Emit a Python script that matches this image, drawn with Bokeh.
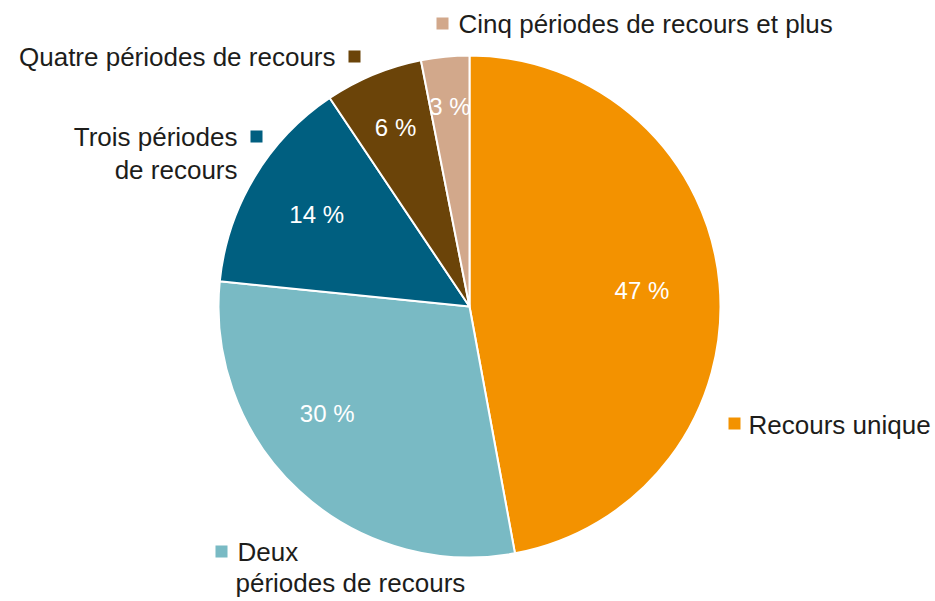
import math
from bokeh.plotting import figure
from bokeh.models import Range1d, ColumnDataSource
from bokeh.core.properties import value
from bokeh.embed import file_html
from bokeh.resources import INLINE

# ---- data ----
categories = ["Recours unique", "Deux périodes de recours", "Trois périodes de recours",
              "Quatre périodes de recours", "Cinq périodes de recours et plus"]
shares = [47.1, 29.5, 14.0, 6.3, 3.1]
pct_labels = ["47 %", "30 %", "14 %", "6 %", "3 %"]
colors = ["#f39200", "#79bac4", "#005f80", "#6b4409", "#d2a88b"]

# ---- layout (screen pixels of the 935x601 window) ----
W, H = 935, 601
def X(x): return x
def Y(y): return H - y

CX, CY, R = X(469), Y(306), 251
FONT = "Liberation Sans"
TXT = "#1d1d1b"

p = figure(width=W, height=H, x_range=Range1d(0, W), y_range=Range1d(0, H),
           output_backend="svg", toolbar_location=None, min_border=0,
           outline_line_color=None)
p.axis.visible = False
p.grid.visible = False

total = sum(shares)
starts, ends, mids = [], [], []
cum = 0.0
for s in shares:
    a0 = math.pi / 2 - 2 * math.pi * cum / total
    cum += s
    a1 = math.pi / 2 - 2 * math.pi * cum / total
    starts.append(a1)
    ends.append(a0)
    mids.append((a0 + a1) / 2)

src = ColumnDataSource(dict(start=starts, end=ends, color=colors, cat=categories))
p.wedge(x=CX, y=CY, radius=R, start_angle="start", end_angle="end",
        fill_color="color", line_color="white", line_width=2, source=src)

# percentage labels inside slices
label_r = [0.69, 0.71, 0.71, 0.77, 0.80]
angle_shift = [0.0, -0.18, 0.0, 0.0, 0.0]
lx = [CX + R * f * math.cos(m + d) for f, m, d in zip(label_r, mids, angle_shift)]
ly = [CY + R * f * math.sin(m + d) for f, m, d in zip(label_r, mids, angle_shift)]
p.text(x=lx, y=ly, text=pct_labels, text_color="white", text_align="center",
       text_baseline="middle", text_font=value(FONT), text_font_size="24px")

# category labels with colored squares
sq_pos = [(734, 423), (221, 551), (256, 136), (354, 56), (442, 23)]
p.scatter(x=[X(a) for a, b in sq_pos], y=[Y(b) for a, b in sq_pos], marker="square",
          size=12, fill_color=colors, line_color=None)

lab_text = ["Recours unique", "Deux", "périodes de recours", "Trois périodes", "de recours",
            "Quatre périodes de recours", "Cinq périodes de recours et plus"]
lab_x = [748, 237, 235, 237, 237, 335, 458]
lab_y = [424, 551, 582, 136, 169, 56, 23]
lab_align = ["left", "left", "left", "right", "right", "right", "left"]
p.text(x=[X(v) for v in lab_x], y=[Y(v) for v in lab_y], text=lab_text,
       text_align=lab_align, text_baseline="middle", text_color=TXT,
       text_font=value(FONT), text_font_size="26px")

open("out.html", "w").write(file_html(p, INLINE))
